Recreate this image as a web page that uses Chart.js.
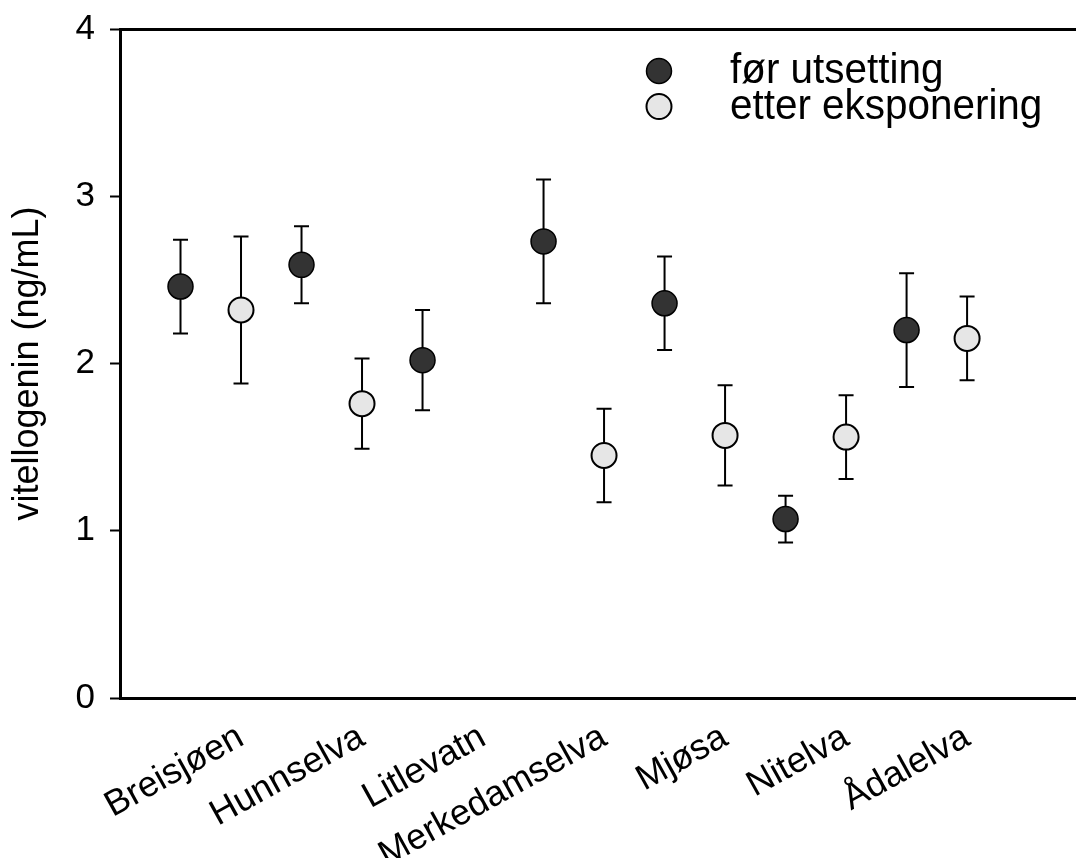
<!DOCTYPE html>
<html>
<head>
<meta charset="utf-8">
<script src="https://cdn.jsdelivr.net/npm/chart.js@4.4.0/dist/chart.umd.min.js"></script>
<style>
  html, body { margin: 0; padding: 0; background: #fff; overflow: hidden; }
  #wrap { position: relative; width: 1076px; height: 858px; }
  canvas { display: block; }
</style>
</head>
<body>
<div id="wrap"><canvas id="chart"></canvas></div>
<script>
const sites = ['Breisjøen', 'Hunnselva', 'Litlevatn', 'Merkedamselva', 'Mjøsa', 'Nitelva', 'Ådalelva'];
const before = [2.46, 2.59, 2.02, 2.73, 2.36, 1.07, 2.20];
const beforeErr = [0.28, 0.23, 0.30, 0.37, 0.28, 0.14, 0.34];
const after = [2.32, 1.76, null, 1.45, 1.57, 1.56, 2.15];
const afterErr = [0.44, 0.27, null, 0.28, 0.30, 0.25, 0.25];
const seriesNames = ['før utsetting', 'etter eksponering'];
const yMin = 0, yMax = 4, yStep = 1;

const FONT = "'Liberation Sans', Arial, Helvetica, sans-serif";

// two slots per site on the x axis: dark point left, light point right
const beforePts = sites.map((s, i) => ({ x: 2 * i, y: before[i], err: beforeErr[i] }));
const afterPts = sites
  .map((s, i) => ({ x: 2 * i + 1, y: after[i], err: afterErr[i] }))
  .filter(p => p.y !== null);

// vertical error bars with caps, drawn under the points
const errorBars = {
  id: 'errorBars',
  beforeDatasetsDraw(chart, args, opts) {
    const ctx = chart.ctx;
    const y = chart.scales.y;
    ctx.save();
    ctx.strokeStyle = opts.color;
    ctx.lineWidth = opts.width;
    chart.data.datasets.forEach((ds, di) => {
      const meta = chart.getDatasetMeta(di);
      ds.data.forEach((p, i) => {
        const el = meta.data[i];
        if (!el || p.err == null) return;
        const top = y.getPixelForValue(p.y + p.err);
        const bot = y.getPixelForValue(p.y - p.err);
        const x = el.x, h = opts.capWidth / 2;
        ctx.beginPath();
        ctx.moveTo(x, top); ctx.lineTo(x, bot);
        ctx.moveTo(x - h, top); ctx.lineTo(x + h, top);
        ctx.moveTo(x - h, bot); ctx.lineTo(x + h, bot);
        ctx.stroke();
      });
    });
    ctx.restore();
  }
};

// legend sitting inside the plot, top right
const cornerLegend = {
  id: 'cornerLegend',
  afterDraw(chart, args, opts) {
    const ctx = chart.ctx;
    ctx.save();
    ctx.textBaseline = 'alphabetic';
    chart.data.datasets.forEach((ds, i) => {
      const cy = opts.y + i * opts.lineGap;
      ctx.beginPath();
      ctx.arc(opts.x, cy, ds.pointRadius, 0, Math.PI * 2);
      ctx.fillStyle = ds.backgroundColor;
      ctx.fill();
      ctx.lineWidth = ds.borderWidth;
      ctx.strokeStyle = ds.borderColor;
      ctx.stroke();
      // the scanned legend text is a bit narrow and tall
      ctx.save();
      ctx.translate(opts.textX, cy + opts.baselineShift);
      ctx.scale(opts.squeeze, 1);
      ctx.font = opts.font;
      ctx.fillStyle = '#000';
      ctx.fillText(ds.label, 0, 0);
      ctx.restore();
    });
    ctx.restore();
  }
};

new Chart(document.getElementById('chart'), {
  type: 'scatter',
  data: {
    datasets: [
      {
        label: seriesNames[0],
        data: beforePts,
        pointRadius: 12.5,
        pointHoverRadius: 12.5,
        backgroundColor: '#333333',
        borderColor: '#000000',
        borderWidth: 1.5
      },
      {
        label: seriesNames[1],
        data: afterPts,
        pointRadius: 12.5,
        pointHoverRadius: 12.5,
        backgroundColor: '#e6e6e6',
        borderColor: '#000000',
        borderWidth: 2
      }
    ]
  },
  options: {
    responsive: true,
    maintainAspectRatio: false,
    animation: false,
    layout: { autoPadding: false, padding: { top: 29, right: 0, bottom: 0, left: 0 } },
    plugins: {
      legend: { display: false },
      tooltip: { enabled: false },
      errorBars: { color: '#000', width: 2, capWidth: 15 },
      cornerLegend: {
        font: '43px ' + FONT,
        squeeze: 0.94,
        x: 659, y: 71, lineGap: 35.5, textX: 730, baselineShift: 12
      }
    },
    scales: {
      x: {
        type: 'linear',
        position: 'bottom',
        min: -1,
        max: 14.8,
        afterBuildTicks: (scale) => {
          scale.ticks = sites.map((s, i) => ({ value: 2 * i + 1 }));
        },
        afterFit: (scale) => { scale.height = 160; },
        grid: { display: false },
        border: { display: true, color: '#000', width: 3 },
        ticks: {
          autoSkip: false,
          minRotation: 29,
          maxRotation: 29,
          padding: 10,
          color: '#000',
          font: { family: FONT, size: 36 },
          callback: (v) => sites[(v - 1) / 2]
        }
      },
      xTop: {
        type: 'linear',
        position: 'top',
        min: -1,
        max: 14.8,
        afterFit: (scale) => { scale.height = 0; },
        grid: { display: false },
        border: { display: true, color: '#000', width: 3 },
        ticks: { display: false }
      },
      y: {
        min: yMin,
        max: yMax,
        afterFit: (scale) => {
          scale.width = 120;
          scale.paddingTop = 0;
          scale.paddingBottom = 0;
        },
        grid: { drawOnChartArea: false, drawTicks: true, tickLength: 10, tickColor: '#000', tickWidth: 2 },
        border: { display: true, color: '#000', width: 3 },
        ticks: {
          stepSize: yStep,
          padding: 15,
          color: '#000',
          font: { family: FONT, size: 35 }
        },
        title: {
          display: true,
          text: 'vitellogenin (ng/mL)',
          color: '#000',
          font: { family: FONT, size: 36 },
          padding: { top: 6, bottom: 0 }
        }
      }
    }
  },
  plugins: [errorBars, cornerLegend]
});
</script>
</body>
</html>
